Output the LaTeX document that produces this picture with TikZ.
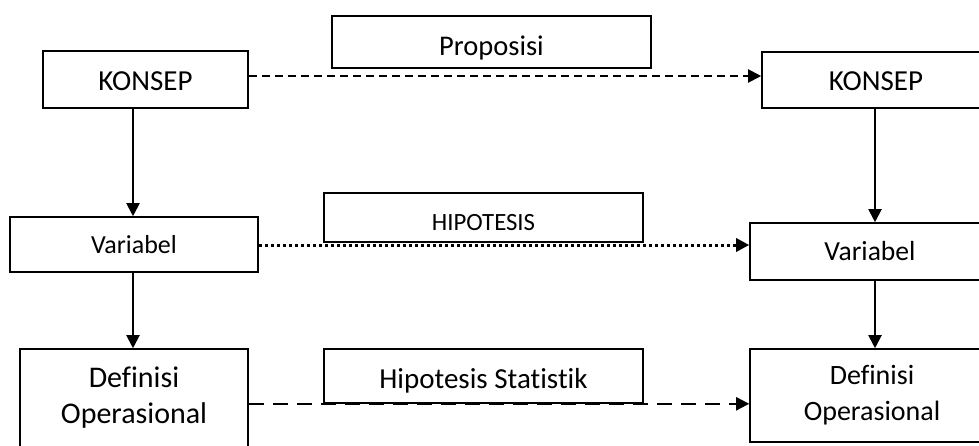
\documentclass[tikz,border=0pt]{standalone}
\usepackage{fontspec}
\setmainfont{Carlito}[Ligatures={NoCommon,TeX}]
\usetikzlibrary{arrows.meta}
\newcommand\lowtxt[2]{\raisebox{-#1}[0pt][0pt]{#2}}
\tikzset{
  box/.style={draw=black, line width=1.6pt, inner sep=0pt, align=center, font=\fontsize{#1}{36}\selectfont},
  box/.default=28,
  conn/.style={line width=2pt, -{Triangle[length=13pt,width=13pt]}},
}
\begin{document}
\begin{tikzpicture}[x=1pt,y=-1pt]
\useasboundingbox (0,0) rectangle (979,445);
\clip (0,0) rectangle (979,445);
\node[box=28.5, minimum width=319pt, minimum height=52pt] (prop) at (491.5,42) {\lowtxt{13pt}{Proposisi}};
\node[box=29, minimum width=205pt, minimum height=57pt] (kl) at (145.5,79.5) {\lowtxt{10.5pt}{KONSEP}};
\node[box=29, minimum width=228pt, minimum height=56pt] (kr) at (876,80) {\lowtxt{10pt}{KONSEP}};
\node[box=26, minimum width=248pt, minimum height=55pt] (vl) at (134,244.5) {Variabel};
\node[box=27.6, minimum width=240pt, minimum height=57pt] (vr) at (870,251.5) {Variabel};
\node[box=24.8, minimum width=319pt, minimum height=49pt] (hip) at (483.5,217.5) {\lowtxt{12.5pt}{HIPOTESIS}};
\node[box=29, minimum width=319pt, minimum height=54pt] (hs) at (483.5,376) {\lowtxt{12pt}{Hipotesis Statistik}};
\node[box=30, minimum width=228pt, minimum height=98pt] (dl) at (134,398) {Definisi\\Operasional};
\node[box=28, minimum width=244pt, minimum height=93pt] (dr) at (872,395.5) {Definisi\\Operasional};
% vertical arrows
\coordinate (kla) at ([xshift=-12.5pt]kl.south);
\draw[conn] (kla) -- (kla |- vl.north);
\coordinate (vla) at ([xshift=-1pt]vl.south);
\draw[conn] (vla) -- (vla |- dl.north);
\coordinate (kra) at ([xshift=-1pt]kr.south);
\draw[conn] (kra) -- (kra |- vr.north);
\coordinate (vra) at ([xshift=5pt]vr.south);
\draw[conn] (vra) -- (vra |- dr.north);
% horizontal connectors
\coordinate (ka) at ([yshift=3.5pt]kl.east);
\draw[conn, dash pattern=on 8pt off 5pt] (ka) -- (ka -| kr.west);
\coordinate (va) at ([yshift=-0.5pt]vl.east);
\draw[conn, line width=3pt, dash pattern=on 3pt off 3pt] (va) -- (va -| vr.west);
\coordinate (da) at (dl.east |- hs.south);
\draw[conn, dash pattern=on 15pt off 9pt] (da) -- (da -| dr.west);
\end{tikzpicture}
\end{document}
